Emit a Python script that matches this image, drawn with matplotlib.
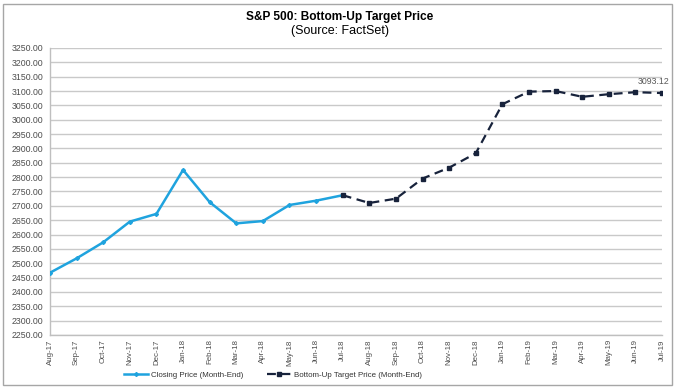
import matplotlib.pyplot as plt
from matplotlib.patches import Rectangle

plt.rcParams["font.family"] = ["Liberation Sans", "DejaVu Sans"]

months = ["Aug-17", "Sep-17", "Oct-17", "Nov-17", "Dec-17", "Jan-18", "Feb-18", "Mar-18",
          "Apr-18", "May-18", "Jun-18", "Jul-18", "Aug-18", "Sep-18", "Oct-18", "Nov-18",
          "Dec-18", "Jan-19", "Feb-19", "Mar-19", "Apr-19", "May-19", "Jun-19", "Jul-19"]

closing_price = [2467, 2517, 2573, 2645, 2672, 2825, 2713, 2639, 2647, 2703, 2718, 2737]
target_price = [2737, 2710, 2725, 2795, 2833, 2883, 3054, 3098, 3100, 3080, 3089, 3096, 3093.12]

yticks = [2250 + 50 * i for i in range(21)]

fig = plt.figure(figsize=(6.8, 3.91), dpi=100)
ax = fig.add_axes([50 / 680, 1 - 335 / 391, 612 / 680, 287 / 391])

# outer frame around the whole chart
fig.add_artist(Rectangle((3 / 680, 6 / 391), 669 / 680, 381 / 391, transform=fig.transFigure,
                         fill=False, edgecolor="#a6a6a6", linewidth=1))

x_close = list(range(len(closing_price)))
x_target = list(range(len(closing_price) - 1, len(months)))

ax.plot(x_close, closing_price, color="#1fa3de", linewidth=1.8, marker="D", markersize=2,
        label="Closing Price (Month-End)", zorder=3)
ax.plot(x_target, target_price, color="#17223b", linewidth=1.6, linestyle=(0, (4, 2.5)),
        marker="s", markersize=3.2, label="Bottom-Up Target Price (Month-End)", zorder=4)

ax.annotate(f"{target_price[-1]:.2f}", (x_target[-1], target_price[-1]), xytext=(-6, 5),
            textcoords="offset points", ha="center", va="bottom", fontsize=6.3, color="#595959",
            annotation_clip=False)

ax.set_xlim(0, len(months) - 1)
ax.set_ylim(2250, 3250)
ax.set_xticks(range(len(months)))
ax.set_xticklabels(months, rotation=90, fontsize=5.7)
ax.set_yticks(yticks)
ax.set_yticklabels([f"{v:.2f}" for v in yticks], fontsize=6.3)
ax.tick_params(length=0, colors="#4d4d4d", pad=5)
ax.tick_params(axis="x", pad=3)
ax.grid(axis="y", color="#c9c9c9", linewidth=1)
ax.set_axisbelow(True)
for side in ["top", "right"]:
    ax.spines[side].set_visible(False)
for side in ["left", "bottom"]:
    ax.spines[side].set_color("#bfbfbf")
    ax.spines[side].set_linewidth(1)

fig.text(0.5, 1 - 17 / 391, "S&P 500: Bottom-Up Target Price", ha="center", va="center",
         fontsize=8.6, fontweight="bold")
fig.text(0.5, 1 - 31 / 391, "(Source: FactSet)", ha="center", va="center", fontsize=9)

fig.legend(loc="center", bbox_to_anchor=(273 / 680, 1 - 375 / 391), ncol=2, frameon=False,
           fontsize=5.7, handlelength=3.0, columnspacing=3.0, handletextpad=0.4,
           labelcolor="#333333")

fig.savefig("out.png", dpi=100)
